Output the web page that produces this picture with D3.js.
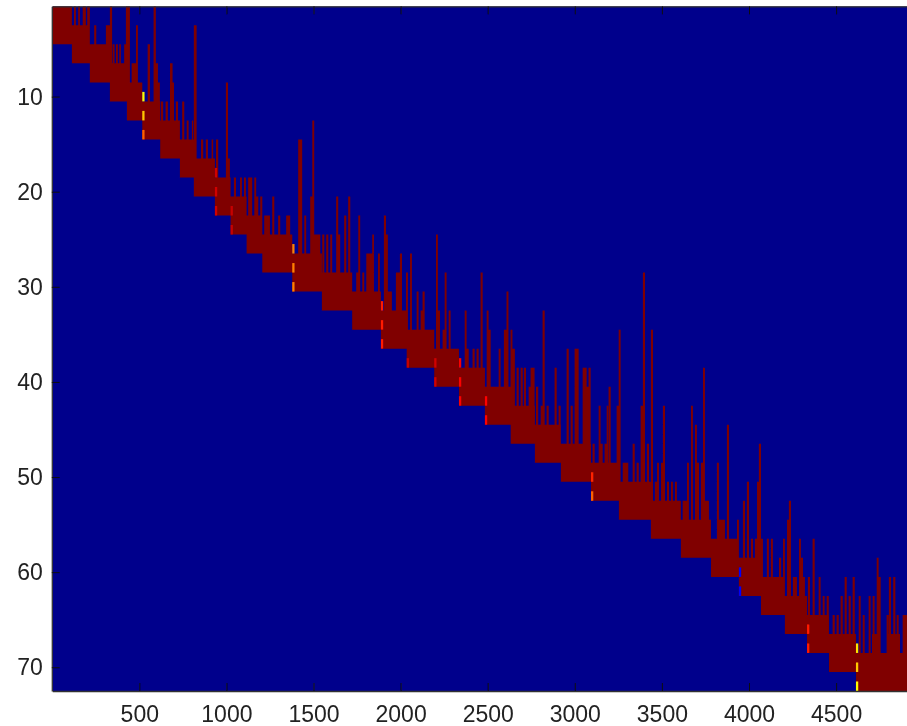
<!DOCTYPE html>
<html>
<head>
<meta charset="utf-8">
<script src="https://cdn.jsdelivr.net/npm/d3@7"></script>
<style>
  html, body { margin: 0; padding: 0; background: #fff; }
  svg { display: block; }
  text { font-family: "Liberation Sans", Arial, sans-serif; }
</style>
</head>
<body>
<div id="chart"></div>
<script>
const xTicks = [500, 1000, 1500, 2000, 2500, 3000, 3500, 4000, 4500];
const yTicks = [10, 20, 30, 40, 50, 60, 70];

// first column of each two-row band of the staircase
const stepCols = [
  1, 1, 113, 216, 331, 429, 517, 620, 733, 813,
  934, 1024, 1116, 1206, 1378, 1548, 1722, 1887, 2035, 2193,
  2335, 2484, 2632, 2771, 2920, 3093, 3253, 3437, 3609, 3782,
  3942, 4069, 4206, 4333, 4459, 4614,
];

// columns sticking out above the staircase: first col, last col, rows left empty above
const spikeFrom = [
  125, 149, 175, 201, 241, 308, 331, 347, 366, 385,
  413, 423, 456, 481, 548, 582, 595, 607, 624, 651,
  676, 687, 710, 746, 772, 802, 813, 854, 882, 915,
  940, 997, 1009, 1043, 1078, 1101, 1125, 1160, 1171, 1194,
  1217, 1263, 1297, 1343, 1412, 1447, 1481, 1493, 1504, 1550,
  1573, 1596, 1630, 1642, 1676, 1699, 1745, 1757, 1780, 1803,
  1837, 1870, 1904, 1916, 1927, 1973, 1996, 2031, 2054, 2092,
  2115, 2126, 2203, 2214, 2241, 2253, 2276, 2368, 2379, 2413,
  2436, 2459, 2494, 2505, 2563, 2593, 2608, 2631, 2642, 2666,
  2689, 2708, 2735, 2746, 2777, 2804, 2815, 2838, 2884, 2907,
  2953, 2976, 2999, 3045, 3068, 3079, 3102, 3137, 3148, 3171,
  3183, 3194, 3240, 3252, 3275, 3332, 3355, 3378, 3391, 3414,
  3437, 3460, 3472, 3495, 3506, 3529, 3552, 3575, 3619, 3644,
  3667, 3690, 3701, 3724, 3736, 3747, 3816, 3827, 3873, 3931,
  3965, 3988, 4011, 4034, 4046, 4057, 4069, 4103, 4126, 4172,
  4195, 4218, 4229, 4252, 4287, 4298, 4310, 4338, 4365, 4400,
  4423, 4446, 4480, 4503, 4526, 4549, 4572, 4595, 4630, 4653,
  4687, 4706, 4710, 4733, 4744, 4790, 4792, 4803, 4828, 4848,
  4882,
];
const spikeTo = [
  136, 159, 193, 216, 253, 331, 344, 358, 377, 394,
  427, 446, 486, 492, 561, 595, 607, 618, 637, 664,
  691, 699, 722, 758, 783, 809, 829, 867, 894, 924,
  953, 1009, 1020, 1055, 1089, 1112, 1148, 1171, 1183, 1206,
  1250, 1275, 1309, 1366, 1435, 1458, 1493, 1504, 1539, 1562,
  1585, 1607, 1642, 1653, 1688, 1711, 1768, 1768, 1791, 1837,
  1847, 1881, 1916, 1927, 1950, 2008, 2008, 2042, 2065, 2103,
  2126, 2138, 2214, 2226, 2253, 2264, 2287, 2379, 2391, 2425,
  2448, 2471, 2505, 2517, 2574, 2616, 2619, 2642, 2656, 2678,
  2701, 2720, 2746, 2769, 2790, 2823, 2827, 2850, 2896, 2919,
  2965, 2988, 3022, 3068, 3087, 3091, 3114, 3148, 3160, 3183,
  3192, 3206, 3252, 3263, 3307, 3344, 3367, 3391, 3403, 3426,
  3449, 3472, 3483, 3506, 3518, 3541, 3563, 3586, 3644, 3655,
  3678, 3701, 3713, 3736, 3747, 3770, 3827, 3862, 3885, 3942,
  3977, 4000, 4023, 4057, 4057, 4069, 4080, 4114, 4137, 4184,
  4206, 4229, 4241, 4275, 4298, 4310, 4321, 4350, 4377, 4411,
  4434, 4458, 4492, 4515, 4538, 4561, 4584, 4607, 4641, 4664,
  4698, 4752, 4721, 4744, 4756, 4802, 4867, 4815, 4840, 4859,
  4907,
];
const spikeTop = [
  0, 0, 0, 0, 2, 2, 0, 4, 4, 4,
  4, 0, 6, 2, 4, 0, 6, 8, 10, 10,
  6, 8, 10, 10, 12, 12, 2, 14, 14, 14,
  14, 8, 16, 18, 18, 18, 18, 18, 20, 20,
  22, 20, 22, 22, 14, 22, 20, 12, 24, 24,
  24, 24, 20, 24, 22, 20, 28, 22, 28, 26,
  24, 26, 22, 24, 30, 28, 26, 28, 26, 30,
  32, 30, 24, 32, 34, 28, 32, 32, 36, 36,
  36, 28, 32, 34, 36, 34, 30, 34, 36, 38,
  38, 38, 40, 38, 40, 42, 32, 42, 38, 42,
  36, 42, 36, 38, 40, 38, 46, 42, 46, 46,
  42, 40, 42, 34, 48, 46, 48, 42, 28, 46,
  34, 50, 48, 48, 42, 50, 50, 50, 52, 48,
  42, 44, 48, 48, 38, 52, 48, 54, 44, 54,
  52, 50, 56, 56, 50, 46, 56, 56, 56, 58,
  56, 54, 52, 60, 56, 58, 60, 60, 56, 60,
  62, 62, 64, 64, 62, 60, 62, 60, 62, 64,
  62, 66, 62, 58, 60, 64, 66, 60, 60, 64,
  64,
];

// the few brighter cells on the edge of the staircase
const hotCols = [
  517, 517, 517, 934, 934, 934, 1024, 1024, 1378, 1378, 1378,
  1887, 1887, 1887, 2035, 2193, 2193, 2335, 2335, 2335, 2484, 2484,
  3093, 3093, 3942, 3942, 4333, 4333, 4614, 4614, 4614,
];
const hotRows = [
  10, 12, 14, 18, 20, 22, 22, 24, 26, 28, 30,
  32, 34, 36, 38, 38, 40, 38, 40, 42, 42, 44,
  50, 52, 60, 62, 66, 68, 68, 70, 72,
];
const hotValues = [
  0.63, 0.68, 0.78, 0.92, 0.92, 0.92, 0.93, 0.93, 0.75, 0.75, 0.75,
  0.85, 0.85, 0.85, 0.93, 0.92, 0.92, 0.88, 0.88, 0.88, 0.87, 0.87,
  0.84, 0.78, 0.12, 0.12, 0.85, 0.85, 0.65, 0.68, 0.63,
];

const width = 907;
const height = 726;
const colMax = 4907;
const rowCount = 72;
const hotWidth = 13; // columns

const x = d3.scaleLinear().domain([0.5, colMax]).range([52.3, width]);
const y = d3.scaleLinear().domain([0.5, rowCount + 0.5]).range([6.3, 691]);
const jet = d3
  .scaleLinear()
  .domain([0, 0.125, 0.375, 0.625, 0.875, 1])
  .range(["#00008c", "#0000ff", "#00ffff", "#ffff00", "#ff0000", "#800000"]);

// a band starting at stepCols[j] runs on to the start of the band two steps down
const bandEnd = (j) => (j + 2 < stepCols.length ? stepCols[j + 2] : colMax);

const svg = d3
  .select("#chart")
  .append("svg")
  .attr("width", width)
  .attr("height", height)
  .attr("viewBox", [0, 0, width, height]);

const defs = svg.append("defs");
defs
  .append("clipPath")
  .attr("id", "plot")
  .append("rect")
  .attr("x", x.range()[0])
  .attr("y", y.range()[0])
  .attr("width", width - x.range()[0])
  .attr("height", y.range()[1] - y.range()[0]);
// the source is an upscaled screenshot, everything is slightly soft
defs
  .append("filter")
  .attr("id", "soft")
  .attr("x", "-2%")
  .attr("y", "-2%")
  .attr("width", "104%")
  .attr("height", "104%")
  .append("feGaussianBlur")
  .attr("stdDeviation", 0.4);

const root = svg.append("g").attr("filter", "url(#soft)");
const plot = root.append("g").attr("clip-path", "url(#plot)");

plot
  .append("rect")
  .attr("x", x(0.5))
  .attr("y", y(0.5))
  .attr("width", x(colMax) - x(0.5))
  .attr("height", y(rowCount + 0.5) - y(0.5))
  .attr("fill", jet(0));

// one path for staircase and spikes so no seams show between the pieces
const solid = d3.path();
stepCols.forEach((d, j) => {
  solid.rect(x(d), y(2 * j + 0.5), x(bandEnd(j)) - x(d), y(2.5) - y(0.5));
});
spikeFrom.forEach((d, i) => {
  // down to the band the column lands on
  const j = stepCols.findIndex((s, k) => bandEnd(k) >= spikeTo[i]);
  const top = y(spikeTop[i] + 0.5);
  solid.rect(x(d), top, x(spikeTo[i]) - x(d), y(2 * j + 1.5) - top);
});
plot.append("path").attr("d", solid.toString()).attr("fill", jet(1));

plot
  .append("g")
  .selectAll("rect")
  .data(hotCols)
  .join("rect")
  .attr("x", (d) => x(d))
  .attr("y", (d, i) => y(hotRows[i] - 0.5))
  .attr("width", x(hotWidth) - x(0))
  .attr("height", y(1.5) - y(0.5))
  .attr("fill", (d, i) => jet(hotValues[i]));

const gx = root
  .append("g")
  .attr("class", "axis")
  .attr("transform", `translate(0,${y.range()[1]})`)
  .call(
    d3
      .axisBottom(x)
      .tickValues(xTicks)
      .tickFormat(d3.format("d"))
      .tickSize(-8)
      .tickSizeOuter(0)
      .tickPadding(15)
  );
const gxTop = root
  .append("g")
  .attr("class", "axis")
  .attr("transform", `translate(0,${y.range()[0]})`)
  .call(d3.axisTop(x).tickValues(xTicks).tickSize(-8).tickSizeOuter(0).tickFormat(""));
const gy = root
  .append("g")
  .attr("class", "axis")
  .attr("transform", `translate(${x.range()[0] - 0.5},0)`)
  .call(d3.axisLeft(y).tickValues(yTicks).tickSize(-8).tickSizeOuter(0).tickPadding(9));

root
  .selectAll(".axis")
  .attr("font-size", 23)
  .attr("font-family", null)
  .call((g) => g.selectAll("text").attr("fill", "#222"))
  .call((g) => g.selectAll(".tick line").attr("stroke", "#111"))
  .call((g) => g.select(".domain").attr("stroke", "#333").attr("stroke-width", 1.3));
</script>
</body>
</html>
